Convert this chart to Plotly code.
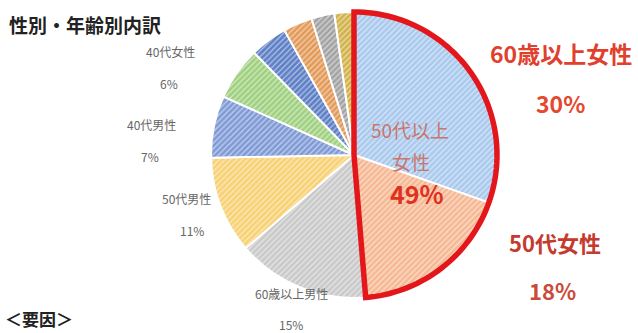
import math
import plotly.graph_objects as go

# Breakdown by gender and age group (percent)
categories = ["60歳以上女性", "50代女性", "60歳以上男性", "50代男性", "40代男性", "40代女性",
              "30代男性", "30代女性", "20代男性", "その他"]
shares = [30.4, 18.3, 15.0, 11.0, 7.0, 6.0, 4.2, 3.3, 2.6, 2.2]
colors = ["#a9c9ee", "#f6b893", "#c9c9c9", "#f7d173", "#7f9ad6", "#9fd07f",
          "#5d7fc6", "#e39a58", "#a3a3a3", "#d2b24a"]
labelled = categories[:6]
highlight = categories[:2]
highlight_name = "50代以上\n女性"

W, H = 638, 333
CX, CY, R = 354, 155, 143  # pie centre and radius in pixels

def px(x):
    return x / W

def py(y):
    return 1 - y / H

fig = go.Figure(go.Pie(
    labels=categories,
    values=shares,
    sort=False,
    direction="clockwise",
    rotation=0,
    textinfo="none",
    hoverinfo="label+percent",
    showlegend=False,
    marker=dict(
        colors=colors,
        line=dict(color="white", width=2),
        pattern=dict(shape="/", fillmode="overlay", fgcolor="white",
                     fgopacity=0.55, size=4, solidity=0.3),
    ),
    domain=dict(x=[px(CX - R), px(CX + R)], y=[py(CY + R), py(CY - R)]),
))

total = sum(shares)
hl_share = sum(shares[categories.index(c)] for c in highlight)

# Red outline around the highlighted sector
frac = hl_share / total
pts = [(CX, CY)]
n = 90
for i in range(n + 1):
    a = 2 * math.pi * frac * i / n
    pts.append((CX + R * math.sin(a), CY - R * math.cos(a)))
path = "M " + " L ".join(f"{px(x):.5f},{py(y):.5f}" for x, y in pts) + " Z"

fig.add_shape(type="path", path=path, xref="paper", yref="paper",
              line=dict(color="#e3171b", width=5.5), fillcolor="rgba(0,0,0,0)",
              layer="above")

def pct(v):
    return f"{round(v / total * 100)}%"

jp = "Noto Sans CJK JP"
ann = []

# Outer labels: (name position, percent position, name colour, percent colour, size)
label_pos = {
    "60歳以上女性": ((561, 53), (560, 103), "#e0402c", "#e4482f", 23, True),
    "50代女性": ((555, 242), (552, 290), "#c43a2e", "#cc4a3a", 22, True),
    "60歳以上男性": ((291, 293), (291, 324), "#666666", "#666666", 12, False),
    "50代男性": ((186, 198), (192, 230), "#666666", "#666666", 12, False),
    "40代男性": ((151, 124), (150, 156), "#666666", "#666666", 12, False),
    "40代女性": ((170, 51), (169, 84), "#666666", "#666666", 12, False),
}
for c in labelled:
    (nx, ny), (qx, qy), col, pcol, size, bold = label_pos[c]
    v = shares[categories.index(c)]
    ann.append(dict(x=px(nx), y=py(ny), text=f"<b>{c}</b>" if bold else c,
                    font=dict(family=jp, size=size, color=col)))
    ann.append(dict(x=px(qx), y=py(qy), text=f"<b>{pct(v)}</b>" if bold else pct(v),
                    font=dict(family=jp, size=size, color=pcol)))

# Text inside the highlighted sector
line1, line2 = highlight_name.split("\n")
ann.append(dict(x=px(410), y=py(129), text=line1,
                font=dict(family=jp, size=19, color="#c8766e")))
ann.append(dict(x=px(411), y=py(161), text=line2,
                font=dict(family=jp, size=19, color="#c8766e")))
ann.append(dict(x=px(417), y=py(193), text=f"<b>{pct(hl_share)}</b>",
                font=dict(family=jp, size=25, color="#e0301e")))

# Title and section heading
ann.append(dict(x=px(7), y=py(24), xanchor="left", text="<b>性別・年齢別内訳</b>",
                font=dict(family=jp, size=19, color="#222222")))
ann.append(dict(x=px(3), y=py(318), xanchor="left", text="<b>＜要因＞</b>",
                font=dict(family=jp, size=17, color="#222222")))

for a in ann:
    a.setdefault("xanchor", "center")
    a.update(xref="paper", yref="paper", yanchor="middle", showarrow=False)

fig.update_layout(
    width=W, height=H,
    margin=dict(l=0, r=0, t=0, b=0),
    paper_bgcolor="white",
    plot_bgcolor="white",
    annotations=ann,
)

fig.write_html("out.html")
